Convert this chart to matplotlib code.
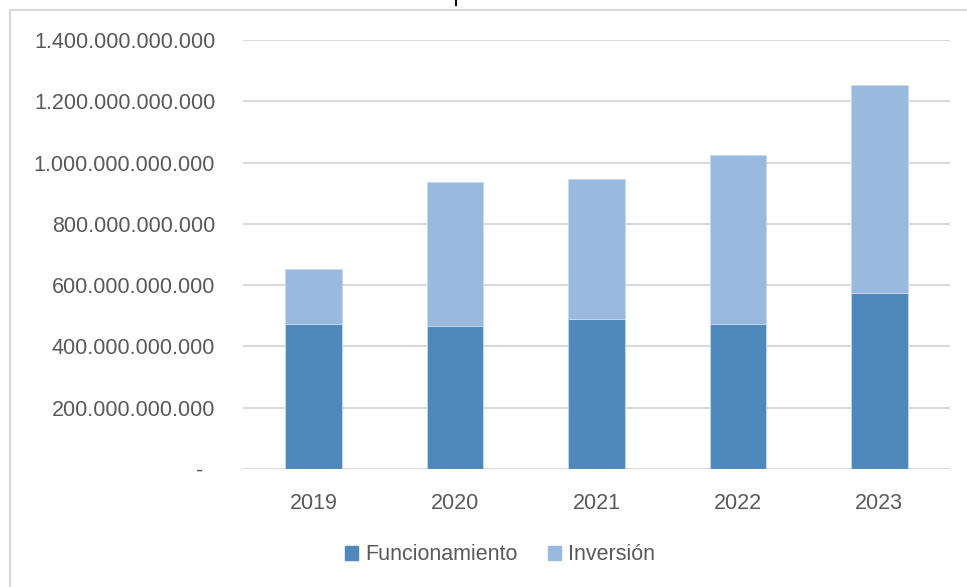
import matplotlib.pyplot as plt
from matplotlib.patches import Patch, Rectangle
from matplotlib.lines import Line2D
from matplotlib.ticker import FuncFormatter

years = ["2019", "2020", "2021", "2022", "2023"]
funcionamiento = [473e9, 467e9, 489e9, 473e9, 574e9]
inversion = [179e9, 469e9, 457e9, 551e9, 679e9]

dark = "#4F89BC"
light = "#99B9DF"
grid = "#D9D9D9"
txt = "#595959"

plt.rcParams["font.family"] = ["Liberation Sans", "DejaVu Sans"]

fig = plt.figure(figsize=(9.67, 5.87), dpi=100)
ax = fig.add_axes([243 / 967, 1 - 469 / 587, 707 / 967, 429 / 587])

x = range(len(years))
ax.bar(x, funcionamiento, width=0.4, color=dark, edgecolor="#C8D9EE", linewidth=0.6, zorder=3)
ax.bar(x, inversion, width=0.4, bottom=funcionamiento, color=light, edgecolor="#C8D9EE", linewidth=0.6, zorder=3)

ax.set_xlim(-0.5, 4.5)
ax.set_ylim(0, 1.4e12)
ax.set_yticks([i * 200e9 for i in range(8)])
ax.set_xticks(list(x))
ax.set_xticklabels(years)


def fmt(v, pos):
    if v == 0:
        return "-\u00a0\u00a0"
    return f"{int(round(v)):,}".replace(",", ".")


ax.yaxis.set_major_formatter(FuncFormatter(fmt))
ax.grid(axis="y", color=grid, linewidth=1.5, zorder=0)
for s in ax.spines.values():
    s.set_visible(False)
ax.tick_params(axis="both", length=0, colors=txt, labelsize=15.5)
ax.tick_params(axis="y", pad=20)
ax.tick_params(axis="x", pad=17)

handles = [Patch(color=dark, label="Funcionamiento"), Patch(color=light, label="Inversión")]
leg = fig.legend(handles=handles, loc="center", bbox_to_anchor=(500 / 967, 1 - 555 / 587), ncol=2,
                 frameon=False, fontsize=15.5, handlelength=0.6, handleheight=0.6,
                 handletextpad=0.35, columnspacing=1.4)
for t in leg.get_texts():
    t.set_color(txt)

# chart frame and clipped title stub
fig.add_artist(Rectangle((10 / 967, -0.05), 1.1, 1 - 10 / 587 + 0.05, transform=fig.transFigure,
                         fill=False, edgecolor=grid, linewidth=1.5))
fig.add_artist(Line2D([456 / 967, 456 / 967], [1, 1 - 5 / 587], transform=fig.transFigure,
                      color="black", linewidth=1.5))

fig.savefig("out.png", dpi=100)
